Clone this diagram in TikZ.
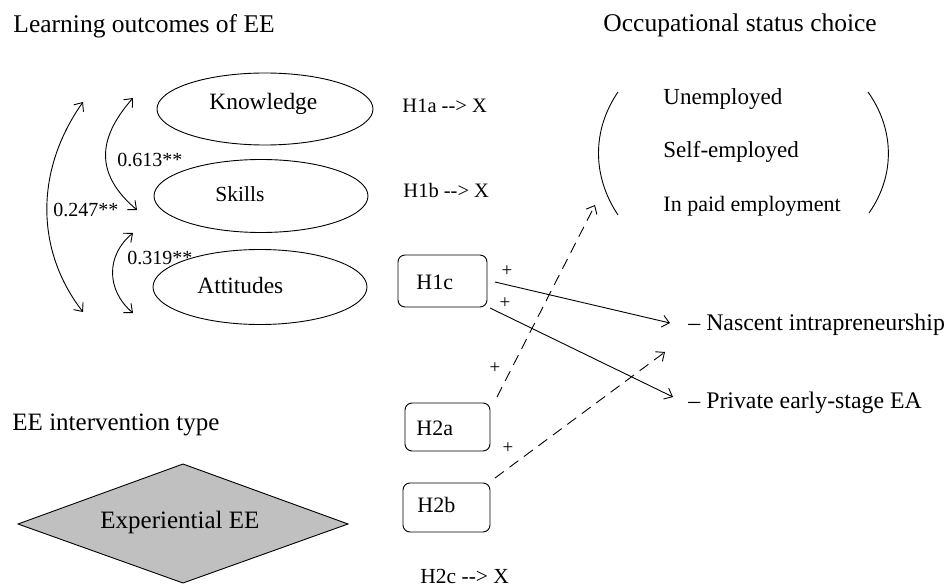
\documentclass[tikz,border=0pt]{standalone}
\usepackage{fontspec}
\setmainfont{Liberation Serif}
\usetikzlibrary{arrows.meta,shapes.geometric}
\newcommand\myfs[1]{\fontsize{#1}{#1}\selectfont}
\begin{document}
\begin{tikzpicture}[x=1pt,y=-1pt,line width=0.9pt,
  txt/.style={inner sep=0pt,anchor=base west},
  oval/.style={draw,ellipse,inner sep=0pt},
  hbox/.style={draw,rounded corners=7pt,inner sep=0pt},
  arr/.style={-{Straight Barb[length=7pt,width=12pt]}},
  darr/.style={arr,dash pattern=on 11pt off 7pt},
  barr/.style={{Straight Barb[length=7pt,width=12pt]}-{Straight Barb[length=7pt,width=12pt]}},
  plus/.style={inner sep=0pt,font=\myfs{19}}]
\useasboundingbox (0,0) rectangle (948,588);
% titles
\node[txt,font=\myfs{25.5}] (t1) at (13,33) {Learning outcomes of EE};
\node[txt,font=\myfs{25.5}] (t2) at (603,32) {Occupational status choice};
\node[txt,font=\myfs{25}] (t3) at (12,430) {EE intervention type};
% ellipses
\node[oval,minimum width=216pt,minimum height=72pt] (know) at (265,109) {};
\node[oval,minimum width=214pt,minimum height=73pt] (skill) at (261,196) {};
\node[oval,minimum width=214pt,minimum height=75pt] (att) at (260,287) {};
\node[txt,font=\myfs{23.4}] (knowt) at (209,110) {Knowledge};
\node[txt,font=\myfs{21.5}] (skillt) at (215,202) {Skills};
\node[txt,font=\myfs{23.4}] (attt) at (197,293) {Attitudes};
% hypotheses text
\node[txt,font=\myfs{20.5}] (h1a) at (402,113) {H1a -{}-> X};
\node[txt,font=\myfs{20.5}] (h1b) at (403,198) {H1b -{}-> X};
\node[txt,font=\myfs{21.5}] (h2c) at (420,583) {H2c -{}-> X};
% boxes
\node[hbox,minimum width=89pt,minimum height=52pt] (h1c) at (442.5,281) {};
\node[hbox,minimum width=85pt,minimum height=48pt] (h2a) at (447.5,427) {};
\node[hbox,minimum width=87pt,minimum height=49pt] (h2b) at (446.5,507.5) {};
\node[txt,font=\myfs{22}] (h1ct) at (416,290) {H1c};
\node[txt,font=\myfs{22}] (h2at) at (416,435) {H2a};
\node[txt,font=\myfs{22}] (h2bt) at (417,512) {H2b};
% diamond
\draw[fill={rgb,255:red,192;green,192;blue,192}] (18,524) -- (183,464) -- (348,524) -- (183,583) -- cycle;
\node[txt,font=\myfs{25}] (exp) at (100,528) {Experiential EE};
% occupational list
\node[txt,font=\myfs{23}] (unemp) at (663,105) {Unemployed};
\node[txt,font=\myfs{23}] (selfemp) at (663,158) {Self-employed};
\node[txt,font=\myfs{22}] (paid) at (663,212) {In paid employment};
\draw (618,92) .. controls (592,130) and (592,176) .. (618,215);
\draw (868,92) .. controls (895,130) and (895,176) .. (869,213);
% outcomes
\node[txt,font=\myfs{23.8}] (nasc) at (688,330) {-- Nascent intrapreneurship};
\node[txt,font=\myfs{23.8}] (priv) at (688,408) {-- Private early-stage EA};
% correlations
\coordinate (a1) at (83,102);
\coordinate (a2) at (83,312);
\coordinate (b1) at (133,98);
\coordinate (b2) at (137,210);
\coordinate (c1) at (133,233);
\coordinate (c2) at (133,313);
\draw[barr] (a1) .. controls (35,170) and (35,250) .. (a2);
\draw[barr] (b1) .. controls (96,140) and (96,175) .. (b2);
\draw[barr] (c1) .. controls (106,255) and (106,290) .. (c2);
\node[txt,font=\myfs{20}] (r1) at (117,167) {0.613**};
\node[txt,font=\myfs{20}] (r2) at (53,217) {0.247**};
\node[txt,font=\myfs{20}] (r3) at (127,265) {0.319**};
% arrows
\coordinate (h1cout1) at (495,282);
\coordinate (h1cout2) at (490,308);
\coordinate (h2aout) at (497,397);
\coordinate (h2bout) at (495,478);
\coordinate (nascin) at (670,323);
\coordinate (privin) at (673,397);
\coordinate (occin) at (595,205);
\coordinate (nascin2) at (665,352);
\draw[arr] (h1cout1) -- (nascin);
\draw[arr] (h1cout2) -- (privin);
\draw[darr] (h2aout) -- (occin);
\draw[darr] (h2bout) -- (nascin2);
% plus signs
\node[plus] (p1) at (507,271) {+};
\node[plus] (p2) at (505,303) {+};
\node[plus] (p3) at (495,368) {+};
\node[plus] (p4) at (508,448) {+};
\end{tikzpicture}
\end{document}
